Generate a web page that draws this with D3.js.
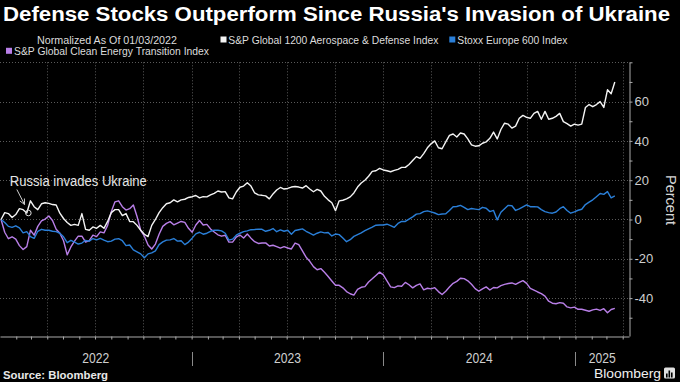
<!DOCTYPE html>
<html><head><meta charset="utf-8">
<script src="https://cdn.jsdelivr.net/npm/d3@7"></script>
<style>
html,body{margin:0;padding:0;background:#000;overflow:hidden}
svg{display:block}
text{font-family:"Liberation Sans",Arial,sans-serif}
</style>
</head><body>
<svg id="chart" width="680" height="382"></svg>
<script>
// ---------- data (weekly readings, first week starting 2022-01-03) ----------
const firstDate = "2022-01-03";
const defense = [
0, 3.5, 3, 1, 2.5, 5.5, 5, 3.3, 9.5, 6.5,
5, 8, 8.5, 8.2, 7.6, 7.4, 3.2, 0.5, -1.5, -3,
-2.5, -3, 3, -5, -5.5, -3.8, -4.5, -3, -4.5, -1,
3.5, 5, 5, 2, 3, -1, -1.1, -3, -5.5, -7.5,
-8.7, -3, 0, 3.5, 6, 8, 8.5, 10, 9, 10,
10.3, 11.2, 11.6, 12.2, 11, 11.6, 11.5, 12.5, 13.3, 14.5,
14, 14.2, 11, 10.5, 14, 16.4, 17, 18.7, 17, 13.5,
12.5, 12.3, 12, 10.5, 13, 15, 16.3, 15.5, 15.8, 16.5,
16.8, 16.5, 16, 17.2, 15.5, 14.1, 15.3, 14.5, 11.8, 10,
8.5, 4.5, 9.5, 9.8, 10.5, 11.5, 13.5, 16.5, 18.6, 20,
22, 24.5, 24.8, 26, 25.2, 24.8, 24.3, 25, 25.5, 26.5,
26.5, 28, 30, 32, 31.1, 33.5, 36.5, 38.5, 40, 36.5,
36, 39.5, 42.8, 43.5, 42, 44, 43.5, 41, 38, 37.3,
37.5, 38.8, 39.5, 41.3, 44.5, 41, 45.8, 49, 48.5, 46.5,
47.5, 51.5, 53, 52, 51.5, 54, 55, 51, 55, 51,
51.5, 52.5, 54, 49.8, 48.8, 47.5, 48.5, 48, 48.5, 57,
58.5, 57.4, 58.5, 60, 57, 66, 64, 70
];
const stoxx = [
0, -1.5, -3.5, -4, -3.2, -4.3, -6.8, -6.2, -8.7, -9.6,
-6, -5, -5.5, -5.5, -6, -6.2, -7, -8.8, -11.8, -10.6,
-11.5, -12.5, -12, -10.6, -11.1, -9.7, -10.4, -9.6, -10.5, -11.3,
-11, -10, -9.8, -10.8, -13.3, -13, -15.5, -16.5, -17.5, -19.5,
-17.5, -17, -16, -12.8, -11.4, -10.5, -10.4, -9.7, -11, -10.8,
-12.8, -11.5, -9.5, -7.3, -6.5, -7.5, -7, -6, -5.4, -5.5,
-5.8, -7, -10.5, -10, -8, -7, -6.2, -5.8, -5.2, -5.1,
-4.9, -5, -6, -5.5, -4.6, -6.2, -5.3, -6, -5.5, -7.5,
-5.6, -5.2, -4.8, -6, -7, -7.9, -7, -6.3, -6.8, -6.6,
-8.4, -7.4, -7.7, -9.4, -11.3, -10.3, -8.6, -7.7, -6.8, -5.7,
-4.8, -3.9, -2.9, -2.8, -2.8, -2.4, -3.1, -4, -2, -1,
-1, 0.2, 1.3, 2.7, 3, 4, 4.4, 3.9, 3.3, 2.5,
2.8, 2.9, 4.6, 6.5, 6.6, 7.2, 6.2, 5, 5.6, 5.3,
5, 6.2, 5.7, 4, 4.6, -0.2, 3.7, 5.5, 7.2, 7,
4.6, 5.4, 6.4, 7.4, 6.5, 6.5, 6.4, 5, 4, 3.5,
3.2, 3.8, 5.5, 6.5, 4.6, 3.2, 3.9, 4.7, 5.2, 7.6,
8.8, 10, 11.6, 13.2, 12.8, 14.2, 11, 12
];
const cleanEnergy = [
0, -6.5, -9.8, -8.8, -10, -13.3, -15.3, -13.8, -5.5, -8,
-3.5, -0.7, 0.2, 1.8, -0.5, -5, -7, -10.8, -18, -14,
-11, -8.5, -8.5, -11.5, -10.8, -8, -8.7, -6.3, -6.8, -3,
4, 9, 9.5, 6.5, 4.8, 5.5, 7.4, 1.5, -5.5, -8.5,
-13, -15, -12.5, -7.5, -3.5, -2, -1.1, -2.7, -1.8, -1,
-1.5, -4.5, -6.5, -2.8, -0.5, -2.8, -2.5, -4.8, -6.4, -7.8,
-8.5, -8, -11.5, -11.5, -9, -7.9, -9.4, -7.4, -9.5, -11.3,
-12.2, -12, -11.9, -13.5, -13.1, -13.8, -14.6, -13.8, -14.5, -15,
-12, -12.8, -16, -19.2, -21.3, -24, -25.6, -25, -26.9, -29,
-31.3, -33.5, -33.5, -34.8, -36.7, -37.8, -38.5, -35.6, -34.5, -34.2,
-31.8, -30.2, -28.5, -26.8, -28.2, -31.2, -34.3, -34.7, -33.8, -34,
-32, -33.2, -34.8, -33.5, -32.8, -35.8, -35, -35.3, -34.7, -36.7,
-38.2, -36.5, -34.4, -32.5, -31.5, -29.9, -30.1, -31.2, -33, -35.2,
-36.5, -35.3, -34.3, -35.9, -34.6, -34.8, -33.7, -33, -32.6, -32.3,
-33, -32, -31.1, -32.5, -35.1, -36, -36.9, -37.7, -39, -41.6,
-42.6, -42.9, -42.3, -42.6, -44.5, -45, -44.6, -45.7, -45.7, -46.2,
-46.7, -46, -45.6, -46.3, -45.4, -47.5, -45.8, -45.2
];
const seriesNames = ["S&P Global 1200 Aerospace & Defense Index", "Stoxx Europe 600 Index", "S&P Global Clean Energy Transition Index"];
const yTickLabels = [-40, -20, 0, 20, 40, 60];
const yearLabels = ["2022", "2023", "2024", "2025"];
const annotationDate = "2022-02-24";
const annotationValue = 3.3;
const annotationText = "Russia invades Ukraine";
const titleText = "Defense Stocks Outperform Since Russia's Invasion of Ukraine";
const normalizedText = "Normalized As Of 01/03/2022";

// ---------- styles ----------
const colors = ["#f4f4f4", "#2a7fd8", "#b97fe8"];
const W = 680, H = 382;
const plot = {left: 0, right: 629, top: 62.3, bottom: 336};

const svg = d3.select("#chart");
svg.append("rect").attr("width", W).attr("height", H).attr("fill", "#000");

const parse = d3.utcParse("%Y-%m-%d");
const start = parse(firstDate);
const dates = defense.map((_, i) => d3.utcDay.offset(start, 7 * i));

const x = d3.scaleUtc()
  .domain([Date.UTC(2022, 0, 1), Date.UTC(2025, 3, 13)])
  .range([plot.left, plot.right]);
const y = d3.scaleLinear().domain([-59.3, 80]).range([plot.bottom, plot.top]);

// grid
const grid = svg.append("g").attr("stroke", "#5a5a5a").attr("stroke-width", 1)
  .attr("stroke-dasharray", "1,2");
grid.selectAll("line.h").data(d3.range(-40, 81, 20)).join("line")
  .attr("x1", plot.left).attr("x2", plot.right)
  .attr("y1", d => Math.round(y(d)) + 0.5).attr("y2", d => Math.round(y(d)) + 0.5);
const quarters = d3.utcMonth.every(3).range(Date.UTC(2022, 3, 1), Date.UTC(2025, 3, 2));
grid.selectAll("line.v").data(quarters).join("line")
  .attr("x1", d => Math.round(x(d)) + 0.5).attr("x2", d => Math.round(x(d)) + 0.5)
  .attr("y1", plot.top).attr("y2", plot.bottom);

// axes
const axisColor = "#aaaaaa";
const yAxis = svg.append("g").attr("transform", `translate(${plot.right + 0.5},0)`)
  .call(d3.axisRight(y).tickValues(d3.range(-50, 81, 10)).tickSize(3).tickSizeOuter(0)
    .tickFormat(d => yTickLabels.includes(d) ? String(d) : ""));
yAxis.select(".domain").attr("stroke", axisColor);
yAxis.selectAll(".tick line").attr("stroke", axisColor);
yAxis.selectAll(".tick text").attr("fill", "#cfcfcf").attr("font-size", 13)
  .attr("x", 5).attr("font-family", "Liberation Sans, Arial, sans-serif");

const months = d3.utcMonth.every(1).range(Date.UTC(2022, 1, 1), Date.UTC(2025, 3, 13));
const xAxis = svg.append("g").attr("transform", `translate(0,${plot.bottom + 0.5})`)
  .call(d3.axisBottom(x).tickValues(months).tickSize(3).tickSizeOuter(0).tickFormat(""));
xAxis.select(".domain").attr("stroke", axisColor);
xAxis.selectAll(".tick line").attr("stroke", axisColor);

// year labels and separators
const years = yearLabels.map(s => +s);
const dom = x.domain();
svg.append("g").selectAll("text").data(years).join("text")
  .attr("x", yr => {
    const a = Math.max(+Date.UTC(yr, 0, 1), +dom[0]);
    const b = Math.min(+Date.UTC(yr + 1, 0, 1), +dom[1]);
    return (x(a) + x(b)) / 2;
  })
  .attr("y", 363).attr("text-anchor", "middle").attr("fill", "#cfcfcf")
  .attr("font-size", 14).attr("textLength", 27).attr("lengthAdjust", "spacingAndGlyphs")
  .text(yr => String(yr));
svg.append("g").selectAll("line").data(years.slice(1)).join("line")
  .attr("x1", yr => Math.round(x(Date.UTC(yr, 0, 1))) + 0.5)
  .attr("x2", yr => Math.round(x(Date.UTC(yr, 0, 1))) + 0.5)
  .attr("y1", 352).attr("y2", 366).attr("stroke", "#8a8a8a");

// lines
const line = d3.line().x((d, i) => x(dates[i])).y(d => y(d));
[[cleanEnergy, 2], [stoxx, 1], [defense, 0]].forEach(([vals, k]) => {
  svg.append("path").datum(vals).attr("d", line).attr("fill", "none")
    .attr("stroke", colors[k]).attr("stroke-width", 1.4).attr("stroke-linejoin", "round");
});

// annotation
const ax = x(parse(annotationDate)), ay = y(annotationValue);
svg.append("circle").attr("cx", ax).attr("cy", ay).attr("r", 2.8)
  .attr("fill", "none").attr("stroke", "#dddddd").attr("stroke-width", 1);
const ex = ax - 3.8, ey = ay - 8.5, sx = ax - 11.5, sy = ay - 23.5;
svg.append("line").attr("x1", sx).attr("y1", sy).attr("x2", ex).attr("y2", ey)
  .attr("stroke", "#cccccc").attr("stroke-width", 1);
const ang = Math.atan2(ey - sy, ex - sx);
const hl = 6, ha = 0.45;
svg.append("path")
  .attr("d", `M${ex - hl * Math.cos(ang - ha)},${ey - hl * Math.sin(ang - ha)}L${ex},${ey}L${ex - hl * Math.cos(ang + ha)},${ey - hl * Math.sin(ang + ha)}`)
  .attr("fill", "none").attr("stroke", "#cccccc").attr("stroke-width", 1);
svg.append("text").attr("x", ax - 18.5).attr("y", ay - 27).attr("fill", "#e6e6e6")
  .attr("font-size", 14).attr("textLength", 137).attr("lengthAdjust", "spacingAndGlyphs")
  .text(annotationText);

// title
svg.append("text").attr("x", 3).attr("y", 21).attr("fill", "#ffffff")
  .attr("font-size", 19.5).attr("font-weight", "bold")
  .attr("textLength", 667).attr("lengthAdjust", "spacingAndGlyphs").text(titleText);

// legend
const lg = svg.append("g").attr("font-size", 11.5).attr("fill", "#dcdcdc");
lg.append("text").attr("x", 37).attr("y", 43.5).attr("textLength", 140)
  .attr("lengthAdjust", "spacingAndGlyphs").text(normalizedText);
const legendItems = [
  {k: 0, sx: 220.5, sy: 36.5, tx: 228.3, ty: 43.5, w: 210},
  {k: 1, sx: 449.3, sy: 36.5, tx: 457.3, ty: 43.5, w: 110},
  {k: 2, sx: 6, sy: 47.8, tx: 14, ty: 54.8, w: 195}
];
legendItems.forEach(it => {
  lg.append("rect").attr("x", it.sx).attr("y", it.sy).attr("width", 6).attr("height", 6)
    .attr("fill", colors[it.k]);
  lg.append("text").attr("x", it.tx).attr("y", it.ty).attr("textLength", it.w)
    .attr("lengthAdjust", "spacingAndGlyphs").text(seriesNames[it.k]);
});

// y axis title
svg.append("text").attr("transform", "translate(666,200) rotate(90)")
  .attr("text-anchor", "middle").attr("fill", "#d6d6d6").attr("font-size", 14.5)
  .text("Percent");

// source & logo
svg.append("text").attr("x", 3).attr("y", 379).attr("fill", "#e8e8e8")
  .attr("font-size", 11.5).attr("font-weight", "bold")
  .attr("textLength", 105).attr("lengthAdjust", "spacingAndGlyphs").text("Source: Bloomberg");
svg.append("text").attr("x", 594).attr("y", 378).attr("fill", "#f0f0f0")
  .attr("font-size", 13).attr("textLength", 67).attr("lengthAdjust", "spacingAndGlyphs")
  .text("Bloomberg");
const logo = svg.append("g").attr("transform", "translate(664,367.5)");
logo.append("rect").attr("width", 11).attr("height", 11).attr("rx", 1.5).attr("fill", "#e0e0e0");
[[2, 6, 4], [4.5, 3, 7], [7, 5, 5]].forEach(([bx, by, bh]) => {
  logo.append("rect").attr("x", bx).attr("y", by).attr("width", 1.6).attr("height", bh).attr("fill", "#000");
});
</script>
</body></html>
